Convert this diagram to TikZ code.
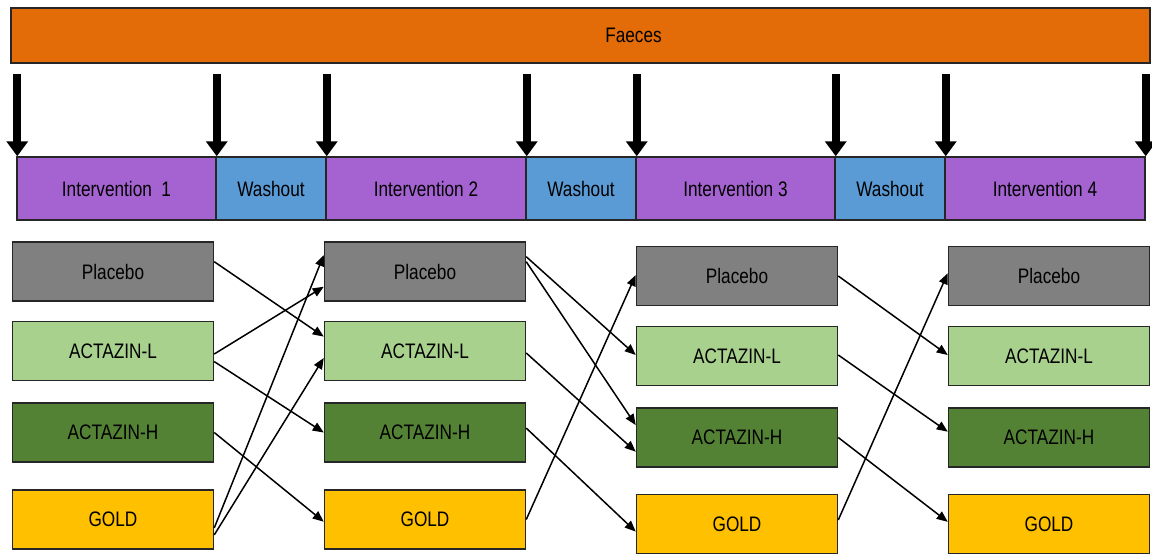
\documentclass[tikz,border=0pt]{standalone}
\usepackage{fontspec}
\setmainfont{Liberation Sans}[FakeStretch=0.82]
\usepackage{tikz}
\usetikzlibrary{arrows.meta}

\definecolor{faeces}{HTML}{E36C09}
\definecolor{interv}{HTML}{A463D0}
\definecolor{washout}{HTML}{5B9BD5}
\definecolor{placebo}{HTML}{808080}
\definecolor{actl}{HTML}{A9D18E}
\definecolor{acth}{HTML}{548235}
\definecolor{gold}{HTML}{FFC000}

\tikzset{
  box/.style={draw=black!85, line width=0.75pt, inner sep=0pt, font=\fontsize{10.5}{12}\selectfont},
  arm/.style={box, minimum width=100.5pt, minimum height=29.5pt},
  phase/.style={box, minimum height=31.5pt},
  bigarrow/.style={line width=4pt, -{Triangle[width=10.5pt,length=7.5pt]}},
  link/.style={line width=0.75pt, ->}
}

\begin{document}
\begin{tikzpicture}[line cap=butt,line join=miter,>={Triangle[length=5.5pt,width=4.5pt]},x=0.5pt,y=-0.5pt]
\useasboundingbox (0,0) rectangle (1152,554);
% top bar
\node[box, fill=faeces, minimum width=569.5pt, minimum height=27.5pt] (fae) at (580.5,35.5) {\hspace*{53pt}Faeces};
% time line
\node[phase, fill=interv, minimum width=99.5pt] (i1) at (116.5,188.5) {Intervention\ \ 1};
\node[phase, fill=washout, minimum width=55pt] (w1) at (271,188.5) {Washout};
\node[phase, fill=interv, minimum width=100pt] (i2) at (426,188.5) {Intervention 2};
\node[phase, fill=washout, minimum width=55pt] (w2) at (581,188.5) {Washout};
\node[phase, fill=interv, minimum width=99.5pt] (i3) at (735.5,188.5) {Intervention 3};
\node[phase, fill=washout, minimum width=55pt] (w3) at (890,188.5) {Washout};
\node[phase, fill=interv, minimum width=100pt] (i4) at (1045,188.5) {Intervention 4};
% sampling arrows
\draw[bigarrow] ([xshift=0.5pt,yshift=41pt]i1.north west) -- ([xshift=0.5pt]i1.north west);
\draw[bigarrow] ([yshift=41pt]i1.north east) -- (i1.north east);
\draw[bigarrow] ([yshift=41pt]w1.north east) -- (w1.north east);
\draw[bigarrow] ([yshift=41pt]i2.north east) -- (i2.north east);
\draw[bigarrow] ([yshift=41pt]w2.north east) -- (w2.north east);
\draw[bigarrow] ([yshift=41pt]i3.north east) -- (i3.north east);
\draw[bigarrow] ([yshift=41pt]w3.north east) -- (w3.north east);
\draw[bigarrow] ([yshift=41pt]i4.north east) -- (i4.north east);
% arms, period 1
\node[arm, fill=placebo] (p1) at (113,271.5) {Placebo};
\node[arm, fill=actl] (l1) at (113,351) {ACTAZIN-L};
\node[arm, fill=acth] (h1) at (113,432.5) {ACTAZIN-H};
\node[arm, fill=gold] (g1) at (113,519.5) {GOLD};
% period 2
\node[arm, fill=placebo] (p2) at (425,271.5) {Placebo};
\node[arm, fill=actl] (l2) at (425,351) {ACTAZIN-L};
\node[arm, fill=acth] (h2) at (425,432.5) {ACTAZIN-H};
\node[arm, fill=gold] (g2) at (425,519.5) {GOLD};
% period 3
\node[arm, fill=placebo] (p3) at (737,276) {Placebo};
\node[arm, fill=actl] (l3) at (737,356) {ACTAZIN-L};
\node[arm, fill=acth] (h3) at (737,437.5) {ACTAZIN-H};
\node[arm, fill=gold] (g3) at (737,524) {GOLD};
% period 4
\node[arm, fill=placebo] (p4) at (1049,276) {Placebo};
\node[arm, fill=actl] (l4) at (1049,356) {ACTAZIN-L};
\node[arm, fill=acth] (h4) at (1049,437.5) {ACTAZIN-H};
\node[arm, fill=gold] (g4) at (1049,524) {GOLD};
% switches 1 -> 2
\draw[link] ([yshift=4.9pt]p1.east) -- ([yshift=7.2pt]l2.west);
\draw[link] ([yshift=-1.5pt]l1.east) -- ([yshift=-7.6pt]p2.west);
\draw[link] ([yshift=-5.3pt]l1.east) -- (h2.west);
\draw[link] (h1.east) -- ([yshift=-1.1pt]g2.west);
\draw[link] ([yshift=-4.2pt]g1.east) -- ([yshift=8.2pt]p2.west);
\draw[link] ([yshift=-7.7pt]g1.east) -- ([yshift=-3.5pt]l2.west);
% switches 2 -> 3
\draw[link] ([yshift=7.4pt]p2.east) -- ([yshift=0.5pt]l3.west);
\draw[link] ([yshift=4.9pt]p2.east) -- ([yshift=6.2pt]h3.west);
\draw[link] ([yshift=-1pt]l2.east) -- ([yshift=-7.1pt]h3.west);
\draw[link] ([yshift=2.2pt]h2.east) -- ([yshift=-3.8pt]g3.west);
\draw[link] (g2.east) -- ([yshift=0.5pt]p3.west);
% switches 3 -> 4
\draw[link] (p3.east) -- ([yshift=0.5pt]l4.west);
\draw[link] ([yshift=0.5pt]l3.east) -- ([yshift=2.9pt]h4.west);
\draw[link] (h3.east) -- ([yshift=1.1pt]g4.west);
\draw[link] ([yshift=2pt]g3.east) -- ([yshift=1.4pt]p4.west);
\end{tikzpicture}
\end{document}
